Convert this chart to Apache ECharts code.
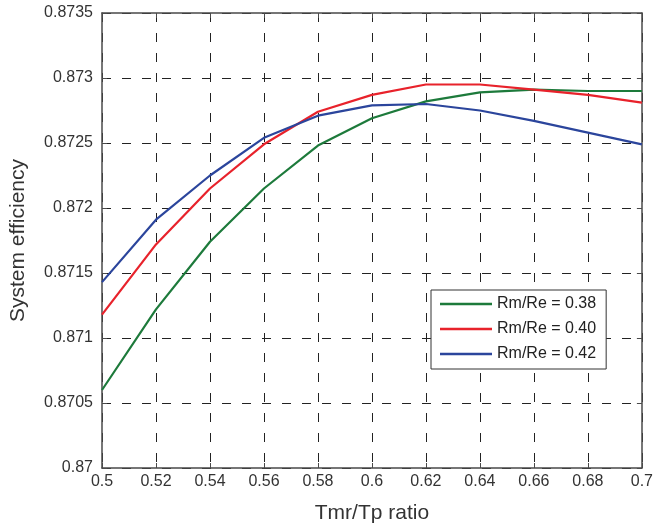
<!DOCTYPE html>
<html>
<head>
<meta charset="utf-8">
<script src="https://cdn.jsdelivr.net/npm/echarts@6/dist/echarts.min.js"></script>
<style>
  html, body { margin: 0; padding: 0; background: #fff; }
  #chart { width: 656px; height: 529px; }
</style>
</head>
<body>
<div id="chart"></div>
<script>
// Tmr/Tp ratio sampled every 0.02
const ratios = [0.5, 0.52, 0.54, 0.56, 0.58, 0.6, 0.62, 0.64, 0.66, 0.68, 0.7];

// System efficiency for each Rm/Re setting
const eff038 = [0.87060, 0.87122, 0.87174, 0.87215, 0.87248, 0.87269, 0.87282, 0.87289, 0.87291, 0.87290, 0.87290];
const eff040 = [0.87118, 0.87172, 0.87215, 0.87249, 0.87274, 0.87287, 0.87295, 0.87295, 0.87291, 0.87287, 0.87281];
const eff042 = [0.87143, 0.87191, 0.87225, 0.87254, 0.87271, 0.87279, 0.87280, 0.87275, 0.87267, 0.87258, 0.87249];

const seriesNames = ['Rm/Re = 0.38', 'Rm/Re = 0.40', 'Rm/Re = 0.42'];
const seriesColors = ['#1d7a3b', '#e8222b', '#2b459c'];

const frameColor = '#4a4a4a';
const textColor = '#333';
const fontFamily = 'Liberation Sans, Arial, sans-serif';

const pairs = arr => ratios.map((x, i) => [x, arr[i]]);

const chart = echarts.init(document.getElementById('chart'), null, { renderer: 'canvas' });

const gridDash = { color: '#222', width: 1, type: [9, 11] };

chart.setOption({
  animation: false,
  backgroundColor: '#fff',
  grid: { left: 101, top: 13, right: 10, bottom: 61, containLabel: false },
  legend: {
    orient: 'vertical',
    left: 431,
    top: 290,
    padding: [6, 10, 7, 9],
    itemGap: 9,
    itemWidth: 52,
    itemHeight: 2.5,
    icon: 'rect',
    borderColor: '#333',
    borderWidth: 1,
    backgroundColor: '#fff',
    textStyle: { fontFamily, fontSize: 16, color: '#222', lineHeight: 16 },
    data: seriesNames
  },
  xAxis: [
    {
      type: 'value',
      min: 0.5,
      max: 0.7,
      interval: 0.02,
      name: 'Tmr/Tp ratio',
      nameLocation: 'middle',
      nameGap: 35,
      nameTextStyle: { fontFamily, fontSize: 21, color: textColor },
      axisLine: { show: true, lineStyle: { color: frameColor, width: 1.5 } },
      axisTick: { show: true, inside: true, length: 5, lineStyle: { color: frameColor } },
      axisLabel: {
        fontFamily, fontSize: 16, color: textColor, margin: 6,
        formatter: v => String(+v.toFixed(2))
      },
      splitLine: { show: true, lineStyle: gridDash }
    },
    {
      type: 'value',
      position: 'top',
      min: 0.5,
      max: 0.7,
      interval: 0.02,
      axisLine: { show: true, lineStyle: { color: frameColor, width: 1.5 } },
      axisTick: { show: true, inside: true, length: 5, lineStyle: { color: frameColor } },
      axisLabel: { show: false },
      splitLine: { show: false }
    }
  ],
  yAxis: [
    {
      type: 'value',
      min: 0.87,
      max: 0.8735,
      interval: 0.0005,
      name: 'System efficiency',
      nameLocation: 'middle',
      nameGap: 73,
      nameTextStyle: { fontFamily, fontSize: 21, color: textColor },
      axisLine: { show: true, lineStyle: { color: frameColor, width: 1.5 } },
      axisTick: { show: true, inside: true, length: 5, lineStyle: { color: frameColor } },
      axisLabel: {
        fontFamily, fontSize: 16, color: textColor, margin: 9,
        formatter: v => String(+v.toFixed(4))
      },
      splitLine: { show: true, lineStyle: gridDash }
    },
    {
      type: 'value',
      position: 'right',
      min: 0.87,
      max: 0.8735,
      interval: 0.0005,
      axisLine: { show: true, lineStyle: { color: frameColor, width: 1.5 } },
      axisTick: { show: true, inside: true, length: 5, lineStyle: { color: frameColor } },
      axisLabel: { show: false },
      splitLine: { show: false }
    }
  ],
  series: [eff038, eff040, eff042].map((arr, i) => ({
    name: seriesNames[i],
    type: 'line',
    data: pairs(arr),
    showSymbol: false,
    symbol: 'none',
    color: seriesColors[i],
    lineStyle: { color: seriesColors[i], width: 2.2 },
    z: 3
  }))
});
</script>
</body>
</html>
